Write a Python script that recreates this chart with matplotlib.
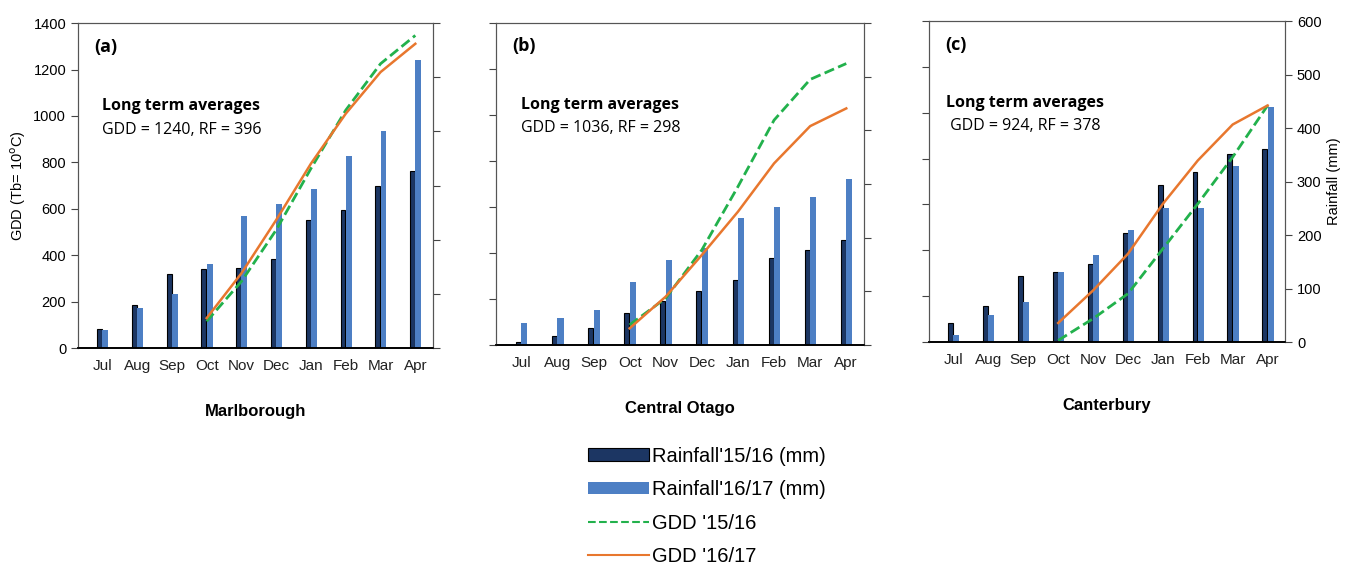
import numpy as np
import matplotlib.pyplot as plt

months = ["Jul", "Aug", "Sep", "Oct", "Nov", "Dec", "Jan", "Feb", "Mar", "Apr"]
gdd_months = months[3:]

# cumulative rainfall (mm)
rain_1516 = {
    "Marlborough": [36, 79, 137, 146, 148, 165, 236, 255, 300, 326],
    "Central Otago": [6, 17, 31, 59, 81, 101, 120, 162, 176, 195],
    "Canterbury": [36, 67, 123, 131, 145, 204, 293, 318, 351, 360],
}
rain_1617 = {
    "Marlborough": [34, 73, 99, 156, 244, 266, 294, 354, 401, 531],
    "Central Otago": [40, 51, 65, 118, 159, 180, 237, 256, 276, 309],
    "Canterbury": [14, 50, 75, 131, 162, 209, 251, 251, 330, 439],
}
# cumulative GDD from October
gdd_1516 = {
    "Marlborough": [115, 287, 509, 774, 1025, 1225, 1347],
    "Central Otago": [87, 203, 413, 688, 977, 1154, 1223],
    "Canterbury": [7, 102, 211, 407, 603, 807, 1032],
}
gdd_1617 = {
    "Marlborough": [129, 322, 552, 795, 1010, 1189, 1311],
    "Central Otago": [72, 210, 391, 579, 789, 951, 1028],
    "Canterbury": [83, 225, 385, 603, 792, 949, 1032],
}
long_term = {
    "Marlborough": "GDD = 1240, RF = 396",
    "Central Otago": "GDD = 1036, RF = 298",
    "Canterbury": " GDD = 924, RF = 378",
}
sites = ["Marlborough", "Central Otago", "Canterbury"]
panel_tags = ["(a)", "(b)", "(c)"]

dark = "#1c3663"
light = "#4d7fc4"
green = "#22b14c"
orange = "#e8772e"

plt.rcParams["font.family"] = ["Liberation Sans", "DejaVu Sans"]

fig = plt.figure(figsize=(13.59, 5.71), dpi=100)
boxes = [
    [0.0574, 0.3905, 0.261, 0.569],
    [0.365, 0.396, 0.271, 0.564],
    [0.6836, 0.401, 0.262, 0.562],
]

x = np.arange(len(months))
xg = np.arange(3, len(months))

for i, site in enumerate(sites):
    ax = fig.add_axes(boxes[i])
    ax2 = ax.twinx()
    ax.set_zorder(ax2.get_zorder() + 1)
    ax.patch.set_visible(False)

    b1 = ax2.bar(x - 0.08, rain_1516[site], 0.14, color=dark, edgecolor="black",
                 linewidth=0.8, label="Rainfall'15/16 (mm)")
    b2 = ax2.bar(x + 0.085, rain_1617[site], 0.17, color=light,
                 label="Rainfall'16/17 (mm)")
    l1, = ax.plot(xg, gdd_1516[site], color=green, ls="--", lw=2,
                  label="GDD '15/16")
    l2, = ax.plot(xg, gdd_1617[site], color=orange, lw=1.8,
                  label="GDD '16/17")

    ax.set_ylim(0, 1400)
    ax2.set_ylim(0, 600)
    ax.set_xlim(-0.7, 9.5)
    ax.set_yticks(np.arange(0, 1401, 200))
    ax2.set_yticks(np.arange(0, 601, 100))
    ax.set_xticks(x)
    ax.set_xticklabels(months, fontsize=11, color="#222222")
    ax.tick_params(axis="x", length=0, pad=8)
    ax.tick_params(axis="y", labelsize=11, length=5, color="#444444")
    ax2.tick_params(axis="y", labelsize=11, length=5, color="#444444")
    for a in (ax, ax2):
        for s in ("top", "left", "right"):
            a.spines[s].set_color("#555555")
        a.spines["bottom"].set_color("black")
        a.spines["bottom"].set_linewidth(1.2)

    if i == 0:
        ax.set_ylabel("GDD (Tb= 10$^{\\rm o}$C)", fontsize=10.5)
        ax.tick_params(axis="y", labelsize=10.5)
    else:
        ax.set_yticklabels([])
    if i == 2:
        ax2.set_ylabel("Rainfall (mm)", fontsize=10.5)
        ax2.tick_params(axis="y", labelsize=10.5)
    else:
        ax2.set_yticklabels([])

    ax.text(0.045, 0.955, panel_tags[i], transform=ax.transAxes, fontsize=13,
            fontweight="bold", va="top", family="Open Sans")
    tx = 0.068 if i < 2 else 0.048
    ax.text(tx, 0.745, "Long term averages", transform=ax.transAxes,
            fontsize=11.5, fontweight="bold", va="center", family="Open Sans")
    ax.text(tx, 0.672, long_term[site], transform=ax.transAxes,
            fontsize=11.5, va="center", family="Open Sans")
    ax.set_xlabel(site, fontsize=12, fontweight="bold", labelpad=22)

    if i == 0:
        handles = [b1, b2, l1, l2]

fig.legend(handles=handles, loc="upper left", bbox_to_anchor=(0.427, 0.232),
           frameon=False, fontsize=14.5, handlelength=3.0, handleheight=0.6,
           handletextpad=0.15, labelspacing=0.72, borderaxespad=0)
for ln in fig.legends[0].get_lines():
    ln.set_linewidth(1.5)

fig.savefig("out.png", dpi=100)
